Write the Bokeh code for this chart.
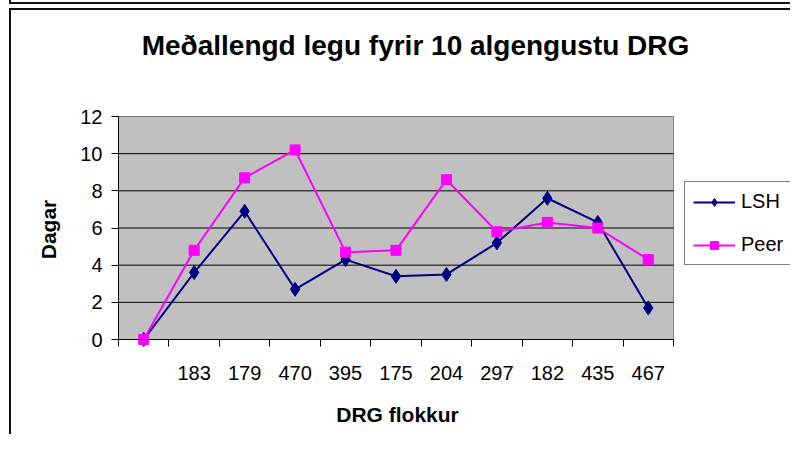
import math
from bokeh.plotting import figure
from bokeh.models import FixedTicker, Legend, LegendItem, Label
from bokeh.embed import file_html
from bokeh.resources import INLINE

# ---- data ----
categories = ["", "183", "179", "470", "395", "175", "204", "297", "182", "435", "467"]
lsh = [0, 3.6, 6.9, 2.7, 4.3, 3.4, 3.5, 5.2, 7.6, 6.3, 1.7]
peer = [0, 4.8, 8.7, 10.2, 4.7, 4.8, 8.6, 5.8, 6.3, 6.0, 4.3]
y_ticks = [0, 2, 4, 6, 8, 10, 12]

title_text = "Meðallengd legu fyrir 10 algengustu DRG"
x_label = "DRG flokkur"
y_label = "Dagar"

FONT = "Liberation Sans"

# ---- layout (canvas pixels) ----
W, H = 790, 434
AREA_L, AREA_B = 118, 339        # left / bottom edge of the grey plot area
AREA_W, AREA_H = 555, 223        # grey plot-area size

n = len(categories)
xs = [i + 0.5 for i in range(n)]
y_lo, y_hi = y_ticks[0], y_ticks[-1]
xu = n / AREA_W                   # data units per pixel
yu = (y_hi - y_lo) / AREA_H

p = figure(width=W, height=H,
           x_range=(-AREA_L * xu, (W - AREA_L) * xu),
           y_range=(y_lo - (H - AREA_B) * yu, y_lo + AREA_B * yu),
           output_backend="svg", toolbar_location=None, min_border=0)

# chart-area frames (previous chart's bottom edge + this chart's frame)
p.border_fill_alpha = 0
p.background_fill_alpha = 0
p.outline_line_color = None
p.styles = {
    "background-color": "white",
    "background-image": ("linear-gradient(#111,#111), linear-gradient(#111,#111), "
                         "linear-gradient(#111,#111), linear-gradient(#111,#111)"),
    "background-size": "100% 2px, 2px 4px, 100% 2px, 2px 100%",
    "background-position": "9px 2px, 9px 0px, 9px 8px, 9px 8px",
    "background-repeat": "no-repeat",
}
p.xgrid.visible = False
p.ygrid.visible = False

# grey plot area and horizontal grid lines
p.quad(left=[0], right=[n], bottom=[y_lo], top=[y_hi],
       fill_color="#C0C0C0", line_color="#808080", line_width=1)
grid_y = y_ticks[1:-1]
p.segment(x0=[0] * len(grid_y), x1=[n] * len(grid_y), y0=grid_y, y1=grid_y,
          line_color="black", line_width=1)

# y axis
ya = p.yaxis[0]
ya.fixed_location = 0
ya.bounds = (y_lo, y_hi)
ya.ticker = FixedTicker(ticks=y_ticks)
ya.major_tick_out = 7
ya.major_tick_in = 0
ya.minor_tick_line_color = None
ya.axis_line_color = "black"
ya.major_tick_line_color = "black"
ya.major_label_text_font = FONT
ya.major_label_text_font_size = "20px"
ya.major_label_text_color = "black"
ya.major_label_standoff = 9

# x axis: labels at category centres, tick marks between categories
xa = p.xaxis[0]
xa.fixed_location = y_lo
xa.bounds = (0, n)
xa.ticker = FixedTicker(ticks=xs, minor_ticks=list(range(n + 1)))
xa.major_label_overrides = {x: c for x, c in zip(xs, categories)}
xa.major_tick_line_color = None
xa.major_tick_out = 0
xa.major_tick_in = 0
xa.minor_tick_line_color = "black"
xa.minor_tick_out = 7
xa.minor_tick_in = 0
xa.axis_line_color = "black"
xa.major_label_text_font = FONT
xa.major_label_text_font_size = "20px"
xa.major_label_text_color = "black"
xa.major_label_standoff = 19

# series
navy = "#000080"
magenta = "#FF00FF"
l1 = p.line(xs, lsh, line_color=navy, line_width=2)
s1 = p.scatter(xs, lsh, marker="diamond", size=14, fill_color=navy, line_color=navy)
l2 = p.line(xs, peer, line_color=magenta, line_width=2)
s2 = p.scatter(xs, peer, marker="square", size=10, fill_color=magenta, line_color=magenta)

legend = Legend(items=[LegendItem(label="LSH", renderers=[l1, s1]),
                       LegendItem(label="Peer", renderers=[l2, s2])],
                location=(684, H - 265))
legend.label_text_font = FONT
legend.label_text_font_size = "20px"
legend.label_text_color = "black"
legend.glyph_width = 42
legend.glyph_height = 20
legend.label_height = 20
legend.label_standoff = 6
legend.spacing = 20
legend.padding = 8
legend.margin = 0
legend.border_line_color = "black"
legend.border_line_width = 1
legend.background_fill_color = "white"
legend.background_fill_alpha = 1.0
p.add_layout(legend, "center")

# title and axis titles (screen pixels from the canvas' bottom-left)
p.add_layout(Label(x=415, y=H - 45, x_units="screen", y_units="screen", text=title_text,
                   text_align="center", text_baseline="middle",
                   text_font=FONT, text_font_style="bold", text_font_size="28px",
                   text_color="black"))
p.add_layout(Label(x=48, y=H - 229, x_units="screen", y_units="screen", text=y_label,
                   angle=math.pi / 2, text_align="center", text_baseline="middle",
                   text_font=FONT, text_font_style="bold", text_font_size="21px",
                   text_color="black"))
p.add_layout(Label(x=397, y=H - 414, x_units="screen", y_units="screen", text=x_label,
                   text_align="center", text_baseline="middle",
                   text_font=FONT, text_font_style="bold", text_font_size="21px",
                   text_color="black"))

open("out.html", "w").write(file_html(p, INLINE))
